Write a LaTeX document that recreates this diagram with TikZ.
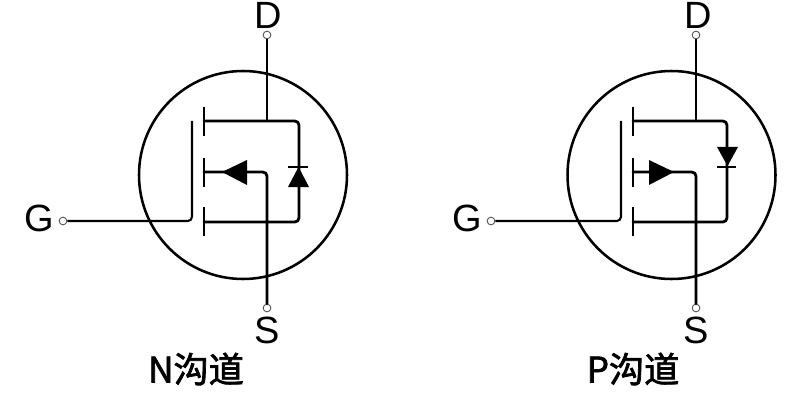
\documentclass[tikz,border=0pt]{standalone}
\usepackage{fontspec}
\setsansfont{Liberation Sans}
\newfontfamily\cjk{Noto Sans CJK SC}[FakeBold=2]
\usetikzlibrary{positioning}
\tikzset{
    wire/.style={line width=2pt, line cap=round, rounded corners=3pt},
    lead/.style={line width=1.5pt, rounded corners=3pt},
    bar/.style={line width=2pt},
    ring/.style={line width=1.8pt},
    terminal/.style={circle, draw=black!70, fill=white, line width=0.6pt, inner sep=0pt, minimum size=5.5pt},
    pinlabel/.style={font=\sffamily\fontsize{27}{27}\selectfont, inner sep=0pt},
    typelabel/.style={font=\cjk\fontsize{25}{25}\selectfont, inner sep=0pt},
}

\begin{document}
\begin{tikzpicture}[x=0.025cm, y=-0.025cm]
    \useasboundingbox (0,0) rectangle (800,400);

    % N channel
    \draw[ring] (243,175) circle (104);

    % Terminals and their letters
    \node[terminal] (nD) at (267,35) {};
    \node[terminal] (nS) at (267,308) {};
    \node[terminal] (nG) at (63,221) {};
    \node[pinlabel] (nDtext) at (268,15) {D};
    \node[pinlabel] (nStext) at (267,330) {S};
    \node[pinlabel] (nGtext) at (39,218) {G};

    % Inner points
    \coordinate (nGtop) at (192,121);
    \coordinate (nDrain) at (204,121);
    \coordinate (nBody) at (204,172);
    \coordinate (nSource) at (204,222);
    \coordinate (nRight) at (299,121);
    \coordinate (nJoin) at (267,121);

    % Gate and the three channel bars
    \draw[lead] (nG) -| (nGtop);
    \draw[bar] (204,107) -- (204,136);
    \draw[bar] (204,158) -- (204,187);
    \draw[bar] (204,207) -- (204,236);

    % Drain, source and body
    \draw[lead] (nD) -- (nJoin);
    \draw[wire] (nDrain) -| (nSource -| nRight) -- (nSource);
    \draw[wire] (nBody) -| (nS);

    % Body arrow points to the channel
    \fill (222,172) -- (247,160) -- (247,185) -- cycle;

    % Diode conducts upwards
    \fill (298.5,167) -- (288,187) -- (309,187) -- cycle;
    \draw[bar] (288,167) -- (308,167);

    \node[typelabel] (nText) at (196,369) {N沟道};

    % P channel
    \draw[ring] (671.5,175) circle (104);

    % Terminals and their letters
    \node[terminal] (pD) at (696,35) {};
    \node[terminal] (pS) at (696,308) {};
    \node[terminal] (pG) at (491,221) {};
    \node[pinlabel] (pDtext) at (698,15) {D};
    \node[pinlabel] (pStext) at (696,330) {S};
    \node[pinlabel] (pGtext) at (467,218) {G};

    % Inner points
    \coordinate (pGtop) at (621,121);
    \coordinate (pDrain) at (633,121);
    \coordinate (pBody) at (633,172);
    \coordinate (pSource) at (633,222);
    \coordinate (pRight) at (727,121);
    \coordinate (pJoin) at (696,121);

    % Gate and the three channel bars
    \draw[lead] (pG) -| (pGtop);
    \draw[bar] (633,107) -- (633,136);
    \draw[bar] (633,158) -- (633,187);
    \draw[bar] (633,207) -- (633,236);

    % Drain, source and body
    \draw[lead] (pD) -- (pJoin);
    \draw[wire] (pDrain) -| (pSource -| pRight) -- (pSource);
    \draw[wire] (pBody) -| (pS);

    % Body arrow points away from the channel
    \fill (674,172) -- (649,160) -- (649,185) -- cycle;

    % Diode conducts downwards
    \fill (727.5,166) -- (717,147) -- (738,147) -- cycle;
    \draw[bar] (717,167) -- (736,167);

    \node[typelabel] (pText) at (633,369) {P沟道};
\end{tikzpicture}
\end{document}
